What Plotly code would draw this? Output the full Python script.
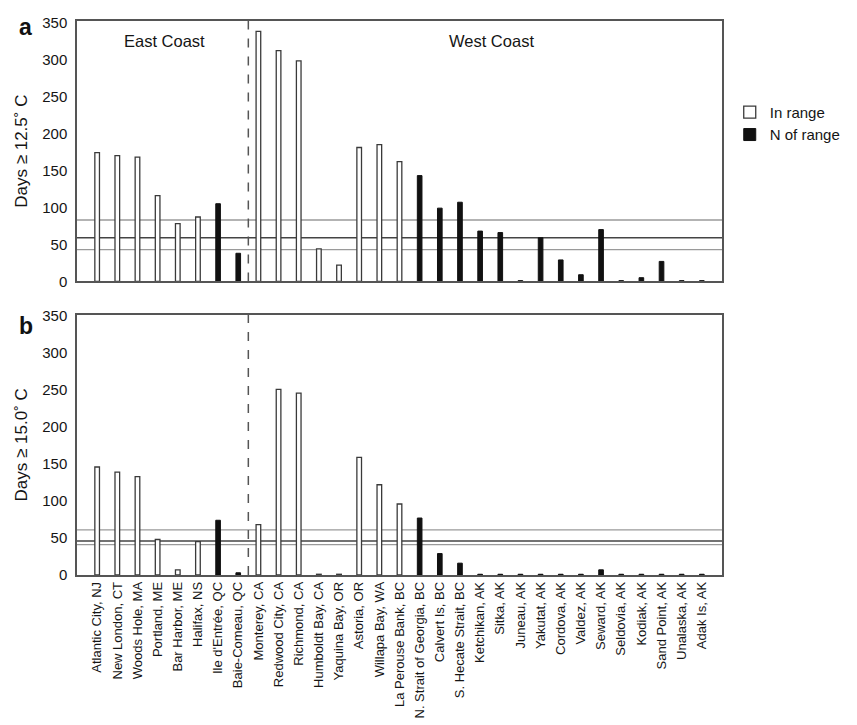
import plotly.graph_objects as go

stations = ["Atlantic City, NJ", "New London, CT", "Woods Hole, MA", "Portland, ME",
            "Bar Harbor, ME", "Halifax, NS", "Ile d'Entrée, QC", "Baie-Comeau, QC",
            "Monterey, CA", "Redwood City, CA", "Richmond, CA", "Humboldt Bay, CA",
            "Yaquina Bay, OR", "Astoria, OR", "Willapa Bay, WA", "La Perouse Bank, BC",
            "N. Strait of Georgia, BC", "Calvert Is, BC", "S. Hecate Strait, BC",
            "Ketchikan, AK", "Sitka, AK", "Juneau, AK", "Yakutat, AK", "Cordova, AK",
            "Valdez, AK", "Seward, AK", "Seldovia, AK", "Kodiak, AK", "Sand Point, AK",
            "Unalaska, AK", "Adak Is, AK"]

# True = north of range, False = in range
north_of_range = [False, False, False, False, False, False, True, True,
                  False, False, False, False, False, False, False, False,
                  True, True, True,
                  True, True, True, True, True, True, True, True, True, True, True, True]

days_12_5 = [174, 170, 168, 116, 78, 87, 105, 38,
             338, 312, 298, 44, 22, 181, 185, 162,
             143, 99, 107,
             68, 66, 1, 59, 29, 9, 70, 1, 5, 27, 1, 1]

days_15_0 = [146, 139, 133, 48, 7, 45, 74, 3,
             68, 251, 246, 1, 1, 159, 122, 96,
             77, 29, 16,
             1, 1, 1, 1, 1, 1, 7, 1, 1, 1, 1, 1]

ref_lines_a = {"light": [83, 43], "dark": [59]}
ref_lines_b = {"light": [61, 41], "dark": [46]}

y_ticks = [0, 50, 100, 150, 200, 250, 300, 350]

FONT = "Liberation Sans, Arial, sans-serif"
TXT = "#151515"

fig = go.Figure()

def add_panel(values, xa, ya, showlegend):
    inr = [v if not n else None for v, n in zip(values, north_of_range)]
    nor = [v if n else None for v, n in zip(values, north_of_range)]
    fig.add_trace(go.Bar(x=stations, y=inr, name="In range", width=0.23,
                         marker=dict(color="white", line=dict(color="#3a3a3a", width=1.3)),
                         xaxis=xa, yaxis=ya, showlegend=showlegend))
    fig.add_trace(go.Bar(x=stations, y=nor, name="N of range", width=0.23,
                         marker=dict(color="#111111", line=dict(color="#111111", width=1)),
                         xaxis=xa, yaxis=ya, showlegend=showlegend))

add_panel(days_12_5, "x", "y", True)
add_panel(days_15_0, "x2", "y2", False)

shapes = []
for xr, yr, refs in [("x", "y", ref_lines_a), ("x2", "y2", ref_lines_b)]:
    for v in refs["light"]:
        shapes.append(dict(type="line", xref=xr + " domain", yref=yr, x0=0, x1=1, y0=v, y1=v,
                           line=dict(color="#9a9a9a", width=1.3), layer="below"))
    for v in refs["dark"]:
        shapes.append(dict(type="line", xref=xr + " domain", yref=yr, x0=0, x1=1, y0=v, y1=v,
                           line=dict(color="#444444", width=1.5), layer="below"))
    shapes.append(dict(type="line", xref=xr, yref=yr + " domain", x0=7.5, x1=7.5, y0=0, y1=1,
                       line=dict(color="#555555", width=1.5, dash="dash"), layer="below"))

axis_common = dict(showgrid=False, zeroline=False, showline=True, linecolor="#555555",
                   linewidth=1.5, mirror=True, ticks="")

fig.update_layout(
    width=849, height=717,
    margin=dict(l=69, r=135, t=6, b=147),
    plot_bgcolor="white", paper_bgcolor="white",
    barmode="overlay",
    font=dict(family=FONT, color=TXT),
    showlegend=True,
    legend=dict(x=1.012, xanchor="left", y=0.865, yanchor="top",
                font=dict(size=15, family=FONT, color=TXT),
                bgcolor="rgba(0,0,0,0)", itemwidth=30),
    xaxis=dict(domain=[0, 1], anchor="y", range=[-1, 31], showticklabels=False,
               categoryorder="array", categoryarray=stations, **axis_common),
    yaxis=dict(domain=[0.530, 1], anchor="x", range=[0, 352], tickvals=y_ticks,
               tickfont=dict(size=15, family=FONT, color=TXT), ticklabelstandoff=5,
               title=dict(text="Days ≥ 12.5˚ C", font=dict(size=17, family=FONT, color=TXT),
                          standoff=10),
               **axis_common),
    xaxis2=dict(domain=[0, 1], anchor="y2", range=[-1, 31], tickangle=-90,
                tickfont=dict(size=13, family=FONT, color=TXT),
                categoryorder="array", categoryarray=stations, **axis_common),
    yaxis2=dict(domain=[0, 0.47], anchor="x2", range=[0, 352], tickvals=y_ticks,
                tickfont=dict(size=15, family=FONT, color=TXT), ticklabelstandoff=5,
                title=dict(text="Days ≥ 15.0˚ C", font=dict(size=17, family=FONT, color=TXT),
                           standoff=10),
                **axis_common),
    shapes=shapes,
    annotations=[
        dict(text="<b>a</b>", x=-0.093, y=0.989, xref="paper", yref="paper",
             xanchor="left", yanchor="middle", showarrow=False,
             font=dict(size=23, family=FONT, color="#111")),
        dict(text="<b>b</b>", x=-0.093, y=0.449, xref="paper", yref="paper",
             xanchor="left", yanchor="middle", showarrow=False,
             font=dict(size=23, family=FONT, color="#111")),
        dict(text="East Coast", x=3.32, y=325, xref="x", yref="y", showarrow=False,
             yanchor="middle", font=dict(size=16.5, family=FONT, color=TXT)),
        dict(text="West Coast", x=19.54, y=325, xref="x", yref="y", showarrow=False,
             yanchor="middle", font=dict(size=16.5, family=FONT, color=TXT)),
    ],
)

fig.write_html("out.html")
